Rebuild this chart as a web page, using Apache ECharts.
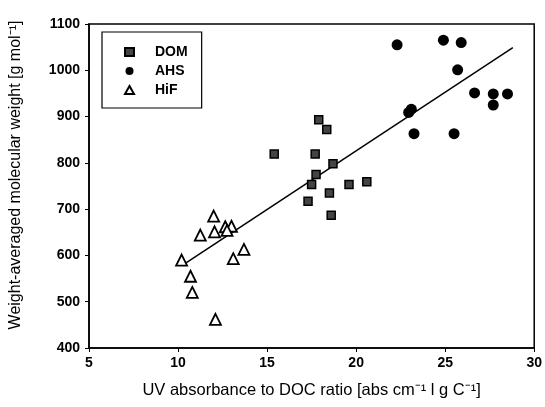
<!DOCTYPE html>
<html><head><meta charset="utf-8">
<script src="https://cdn.jsdelivr.net/npm/echarts@6/dist/echarts.min.js"></script>
<style>html,body{margin:0;padding:0;background:#fff}#c{width:545px;height:407px}</style>
</head><body><div id="c"></div>
<script>
var domX = [17.9, 18.35, 15.4, 17.7, 18.7, 17.75, 20.6, 17.5, 18.5, 19.6, 17.3, 18.6];
var domY = [893, 872, 819, 819, 798, 775, 759, 753, 735, 753, 717, 687];
var ahsX = [22.3, 24.9, 25.9, 25.7, 26.65, 27.7, 28.5, 27.7, 23.1, 22.95, 23.25, 25.5];
var ahsY = [1055, 1065, 1060, 1001, 951, 949, 949, 925, 916, 909, 863, 863];
var hifX = [12.0, 11.25, 12.05, 12.65, 13.0, 12.75, 13.7, 13.1, 10.2, 10.7, 10.8, 12.1];
var hifY = [685, 644, 651, 662, 663, 654, 613, 593, 590, 555, 520, 462];
var fitX = [10.3, 28.8];
var fitY = [580, 1049];
var xTicks = [5, 10, 15, 20, 25, 30];
var yTicks = [400, 500, 600, 700, 800, 900, 1000, 1100];

function pairs(xs, ys){ return xs.map(function(x,i){ return [x, ys[i]]; }); }
var font = 'Liberation Sans, Arial, sans-serif';
var chart = echarts.init(document.getElementById('c'));
chart.setOption({
  animation: false,
  backgroundColor: '#fff',
  grid: { left: 87, right: 8, top: 24, bottom: 59, show: true, borderColor: '#000', borderWidth: 1.5 },
  legend: {
    left: 102, top: 32, orient: 'vertical', itemGap: 5, itemWidth: 9, itemHeight: 8,
    padding: [13, 14, 11, 22], borderColor: '#000', borderWidth: 1.2,
    formatter: function(n){ return '{a|' + n + '}'; },
    textStyle: { fontFamily: font, fontSize: 14, color: '#000', fontWeight: 'bold',
      rich: { a: { fontFamily: font, fontSize: 14, fontWeight: 'bold', color: '#000', padding: [0, 0, 0, 16] } } },
    data: ['DOM', 'AHS', 'HiF']
  },
  xAxis: {
    type: 'value', min: xTicks[0], max: xTicks[xTicks.length-1], interval: 5,
    name: 'UV absorbance to DOC ratio [abs cm⁻¹ l g C⁻¹]', nameLocation: 'middle', nameGap: 34,
    nameTextStyle: { fontFamily: font, fontSize: 16.5, color: '#000' },
    axisLine: { lineStyle: { color: '#000', width: 1.5 } },
    axisTick: { show: true, length: 4, lineStyle: { color: '#000' } },
    axisLabel: { fontFamily: font, fontSize: 14, color: '#000', fontWeight: 'bold', margin: 8 },
    splitLine: { show: false }
  },
  yAxis: {
    type: 'value', min: yTicks[0], max: yTicks[yTicks.length-1], interval: 100,
    name: 'Weight-averaged molecular weight [g mol⁻¹]', nameLocation: 'middle', nameGap: 65,
    nameTextStyle: { fontFamily: font, fontSize: 16, color: '#000', padding: [0, 0, 0, 22] },
    axisLine: { lineStyle: { color: '#000', width: 1.5 } },
    axisTick: { show: true, length: 4, lineStyle: { color: '#000' } },
    axisLabel: { fontFamily: font, fontSize: 14, color: '#000', fontWeight: 'bold', margin: 9,
      formatter: function(v){ return String(v); } },
    splitLine: { show: false }
  },
  series: [
    { name: 'DOM', type: 'scatter', symbol: 'rect', symbolSize: 8, data: pairs(domX, domY),
      itemStyle: { color: '#444', borderColor: '#000', borderWidth: 1.5, opacity: 1 } },
    { name: 'AHS', type: 'scatter', symbol: 'circle', symbolSize: 11, data: pairs(ahsX, ahsY),
      itemStyle: { color: '#000', opacity: 1 } },
    { name: 'HiF', type: 'scatter', symbol: 'triangle', symbolSize: 11, data: pairs(hifX, hifY),
      itemStyle: { color: '#fff', borderColor: '#000', borderWidth: 1.8, opacity: 1 } },
    { name: 'fit', type: 'line', data: pairs(fitX, fitY), symbol: 'none', z: 1,
      lineStyle: { color: '#000', width: 1.5 } }
  ]
});
</script></body></html>
